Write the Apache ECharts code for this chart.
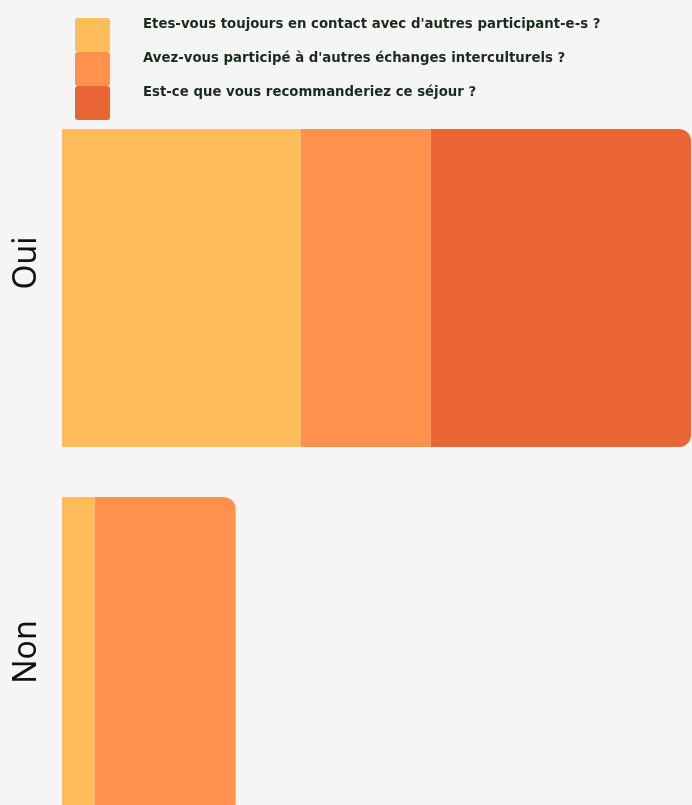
<!DOCTYPE html>
<html><head><meta charset="utf-8">
<script src="https://cdn.jsdelivr.net/npm/echarts@6/dist/echarts.min.js"></script>
<style>html,body{margin:0;padding:0;background:#f5f5f5}#c{width:692px;height:805px}</style>
</head><body><div id="c"></div>
<script>
const categories = ['Oui', 'Non'];
const seriesNames = [
  "Etes-vous toujours en contact avec d'autres participant-e-s ?",
  "Avez-vous participé à d'autres échanges interculturels ?",
  "Est-ce que vous recommanderiez ce séjour ?"
];
const contactValues = [22, 3];
const echangesValues = [12, 13];
const recommandValues = [24, 0];
const colors = ['#FEBC5A', '#FF914D', '#EA6535'];

const allValues = [contactValues, echangesValues, recommandValues];
const R = 12;
const series = allValues.map((vals, si) => ({
  name: seriesNames[si],
  type: 'bar',
  stack: 'total',
  barCategoryGap: '13.6%',
  itemStyle: { color: colors[si] },
  data: vals.map((v, ci) => {
    let last = -1;
    allValues.forEach((a, k) => { if (a[ci] > 0) last = k; });
    return { value: v, itemStyle: { borderRadius: si === last ? [0, R, R, 0] : 0 } };
  })
}));

const chart = echarts.init(document.getElementById('c'));
chart.setOption({
  backgroundColor: '#f5f5f5',
  animation: false,
  legend: {
    orient: 'vertical',
    left: 75, top: 18, padding: 0,
    itemWidth: 35, itemHeight: 34, itemGap: 0,
    icon: 'path://M3,0 L32,0 Q35,0 35,3 L35,31 Q35,34 32,34 L3,34 Q0,34 0,31 L0,3 Q0,0 3,0 Z',
    formatter: name => '{t|' + name + '}',
    textStyle: {
      rich: {
        t: {
          color: '#1c2a1e', fontSize: 13.3, fontWeight: 'bold',
          fontFamily: '"DejaVu Sans", sans-serif',
          padding: [0, 0, 21, 28]
        }
      }
    },
    data: seriesNames
  },
  grid: { left: 62, right: 1, top: 104, height: 736, outerBoundsMode: 'none', containLabel: false },
  xAxis: { type: 'value', min: 0, max: 58, show: false },
  yAxis: {
    type: 'category', inverse: true, data: categories,
    axisLine: { show: false }, axisTick: { show: false },
    axisLabel: {
      rotate: 90, margin: 19,
      formatter: v => v === 'Oui' ? '{oui|' + v + '}' : '{non|' + v + '}',
      rich: {
        oui: { fontSize: 32, color: '#111', fontFamily: '"Noto Sans", sans-serif', padding: [0, 0, 0, 50] },
        non: { fontSize: 32, color: '#111', fontFamily: '"Noto Sans", sans-serif', padding: [0, 0, 0, 8] }
      }
    }
  },
  series: series
});
</script></body></html>
